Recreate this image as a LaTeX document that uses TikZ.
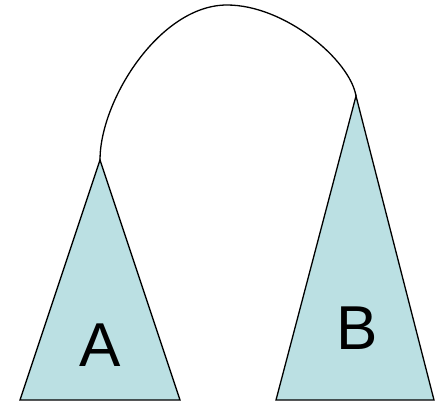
\documentclass[tikz,border=0pt]{standalone}
\usepackage{fontspec}
\setmainfont{Liberation Sans}
\definecolor{trifill}{HTML}{BBE0E3}
\begin{document}
\begin{tikzpicture}[x=1pt,y=-1pt,
  tri/.style={draw=black,fill=trifill,line width=1.3pt,line join=miter},
  link/.style={draw=black,line width=1.3pt},
  lbl/.style={font=\fontsize{62}{62}\selectfont,inner sep=0pt}]
\useasboundingbox (0,0) rectangle (440,402);
\coordinate (atop) at (100,160);
\coordinate (btop) at (356,96);
\coordinate (peak) at (227,5);
\path[tri] (atop) -- (180,400) -- (20,400) -- cycle;
\path[tri] (btop) -- (434,400) -- (276,400) -- cycle;
\node[lbl] (A) at (100,345) {A};
\node[lbl] (B) at (357,328) {B};
\draw[link] (atop) .. controls (100,100) and (160,5) .. (peak)
  .. controls (285,5) and (350,60) .. (btop);
\end{tikzpicture}
\end{document}
